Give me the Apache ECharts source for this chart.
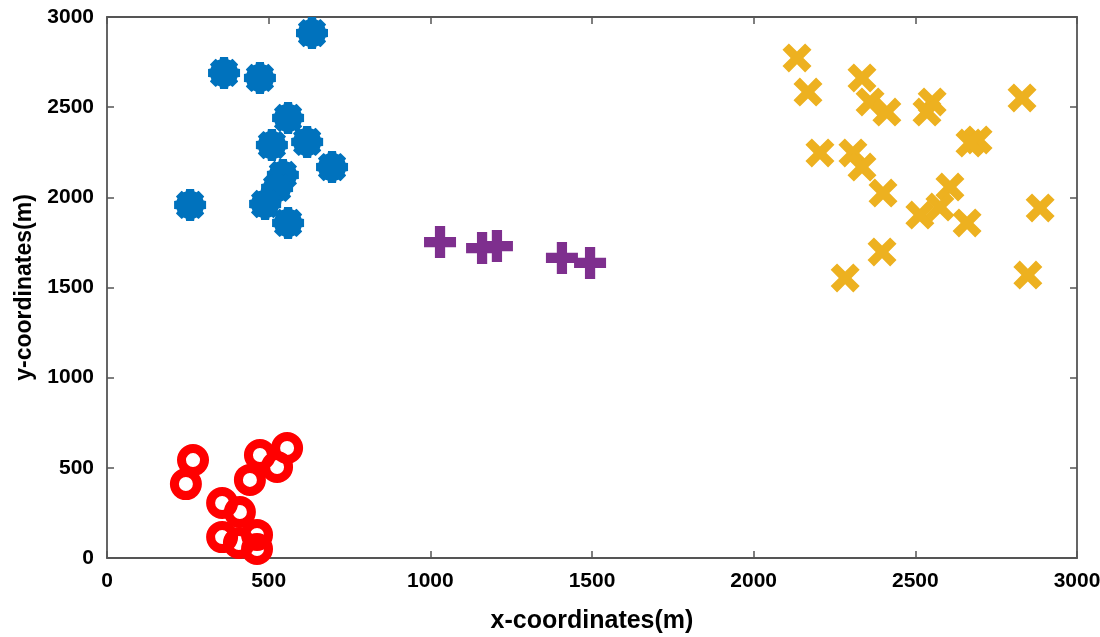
<!DOCTYPE html>
<html>
<head>
<meta charset="utf-8">
<script src="https://cdn.jsdelivr.net/npm/echarts@6/dist/echarts.min.js"></script>
<style>
html,body{margin:0;padding:0;background:#fff;}
#chart{width:1100px;height:637px;}
</style>
</head>
<body>
<div id="chart"></div>
<script>
// ---- data (metres) ----
const xTicks = [0, 500, 1000, 1500, 2000, 2500, 3000];
const yTicks = [0, 500, 1000, 1500, 2000, 2500, 3000];

const blueX = [634, 362, 473, 560, 619, 510, 696, 544, 526, 489, 560, 257];
const blueY = [2911, 2690, 2662, 2440, 2307, 2290, 2168, 2124, 2052, 1963, 1858, 1958];

const redX = [266, 244, 473, 557, 526, 442, 356, 411, 356, 408, 464, 464];
const redY = [543, 410, 571, 610, 505, 433, 305, 255, 116, 83, 128, 50];

const purpleX = [1030, 1160, 1206, 1407, 1494];
const purpleY = [1752, 1719, 1730, 1664, 1636];

const yellowX = [2134, 2168, 2335, 2360, 2412, 2205, 2307, 2335, 2400, 2514, 2397, 2283,
                 2552, 2536, 2830, 2694, 2669, 2607, 2576, 2660, 2886, 2848];
const yellowY = [2773, 2584, 2662, 2529, 2473, 2246, 2246, 2168, 2024, 1902, 1697, 1553,
                 2529, 2473, 2551, 2318, 2301, 2057, 1946, 1858, 1941, 1569];

// ---- symbol shapes ----
function gearPath() {
  const pts = [];
  for (let k = 0; k < 8; k++) {
    const a = k * 45;
    const seq = [[50, a - 14], [50, a + 14], [43, a + 18], [43, a + 27]];
    seq.forEach(([r, dd]) => {
      const t = dd * Math.PI / 180;
      pts.push((50 + r * Math.cos(t)).toFixed(2) + ',' + (50 + r * Math.sin(t)).toFixed(2));
    });
  }
  return 'path://M' + pts.join(' L') + ' Z';
}
const plusPath = 'path://M34,0 L66,0 L66,34 L100,34 L100,66 L66,66 L66,100 L34,100 L34,66 L0,66 L0,34 L34,34 Z';
const d = 22;
const crossPath = 'path://M0,' + d + ' L' + d + ',0 L50,' + (50 - d) + ' L' + (100 - d) + ',0 L100,' + d +
  ' L' + (50 + d) + ',50 L100,' + (100 - d) + ' L' + (100 - d) + ',100 L50,' + (50 + d) +
  ' L' + d + ',100 L0,' + (100 - d) + ' L' + (50 - d) + ',50 Z';

function pairs(xs, ys) { return xs.map((x, i) => [x, ys[i]]); }

const axisColor = '#555';
const fontFam = 'Liberation Sans, Arial, sans-serif';
const labelFont = { fontFamily: fontFam, fontWeight: 'bold', fontSize: 21, color: '#000' };

function axisBase(extra) {
  return Object.assign({
    type: 'value', min: 0, max: 3000, interval: 500,
    axisLine: { show: true, onZero: false, lineStyle: { color: axisColor, width: 1.8 } },
    axisTick: { show: true, inside: true, length: 7, lineStyle: { color: axisColor, width: 1.5 } },
    splitLine: { show: false }
  }, extra);
}

const chart = echarts.init(document.getElementById('chart'));
chart.setOption({
  animation: false,
  backgroundColor: '#fff',
  grid: { left: 107, right: 23, top: 17, bottom: 79, containLabel: false, outerBoundsMode: 'none' },
  xAxis: [
    axisBase({
      position: 'bottom',
      axisLabel: Object.assign({ margin: 13, formatter: v => xTicks.includes(v) ? String(v) : '' }, labelFont),
      name: 'x-coordinates(m)', nameLocation: 'middle', nameGap: 51,
      nameTextStyle: { fontFamily: fontFam, fontWeight: 'bold', fontSize: 25, color: '#000' }
    }),
    axisBase({ position: 'top', axisLabel: { show: false } })
  ],
  yAxis: [
    axisBase({
      position: 'left',
      axisLabel: Object.assign({ margin: 13, formatter: v => yTicks.includes(v) ? String(v) : '' }, labelFont),
      name: 'y-coordinates(m)', nameLocation: 'middle', nameGap: 68, nameRotate: 90,
      nameTextStyle: { fontFamily: fontFam, fontWeight: 'bold', fontSize: 23, color: '#000' }
    }),
    axisBase({ position: 'right', axisLabel: { show: false } })
  ],
  series: [
    {
      type: 'scatter', data: pairs(blueX, blueY), symbol: gearPath(), symbolSize: 32,
      itemStyle: { color: '#0072BD', opacity: 1 }, silent: true
    },
    {
      type: 'scatter', data: pairs(redX, redY), symbol: 'circle', symbolSize: 23,
      itemStyle: { color: 'rgba(0,0,0,0)', borderColor: '#FF0000', borderWidth: 9, opacity: 1 }, silent: true
    },
    {
      type: 'scatter', data: pairs(purpleX, purpleY), symbol: plusPath, symbolSize: 32,
      itemStyle: { color: '#7E2F8E', opacity: 1 }, silent: true
    },
    {
      type: 'scatter', data: pairs(yellowX, yellowY), symbol: crossPath, symbolSize: 29,
      itemStyle: { color: '#EDB120', opacity: 1 }, silent: true
    }
  ]
});
</script>
</body>
</html>
